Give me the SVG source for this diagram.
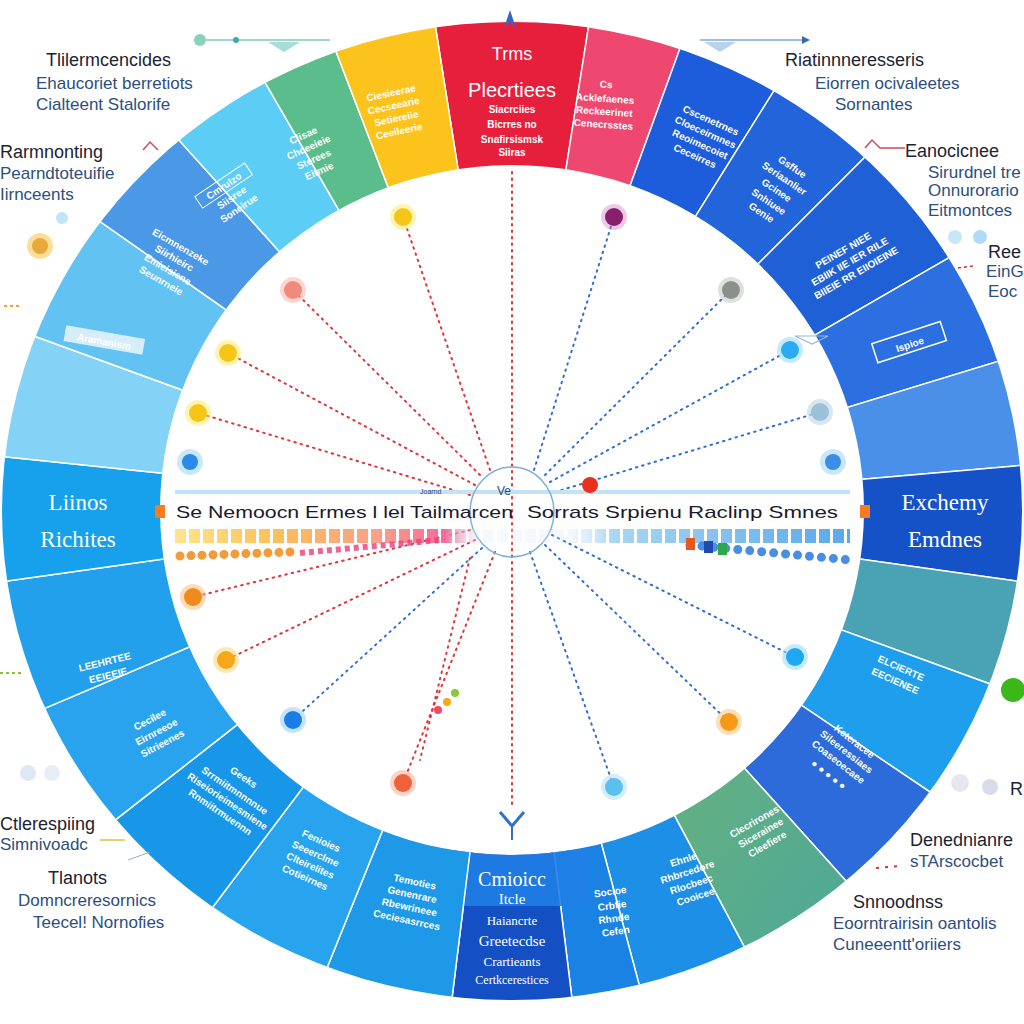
<svg xmlns="http://www.w3.org/2000/svg" width="1024" height="1024" viewBox="0 0 1024 1024">
<style>
.sl{font-family:"Liberation Sans",Arial,sans-serif;font-size:10px;font-weight:bold;fill:#fff;text-anchor:middle}
.big{font-family:"Liberation Serif","Times New Roman",serif;fill:#fff;text-anchor:middle}
.bigs{font-family:"Liberation Sans",Arial,sans-serif;fill:#fff;text-anchor:middle}
.hd{font-family:"Liberation Sans",Arial,sans-serif;font-size:18px;fill:#1c2333}
.sb{font-family:"Liberation Sans",Arial,sans-serif;font-size:17px;fill:#2d4e7e}
.row{font-family:"Liberation Sans",Arial,sans-serif;font-size:17px;fill:#1a1a2e}
.wedge{stroke:#fff;stroke-width:1.5}
.dr{fill:none;stroke:#e0343a;stroke-width:2;stroke-dasharray:1.5 5;stroke-linecap:round}
.db{fill:none;stroke:#2f6fd0;stroke-width:2;stroke-dasharray:1.5 5;stroke-linecap:round}
</style>
<defs>
<clipPath id="ring"><path clip-rule="evenodd" d="M2,511 a510,489 0 1,0 1020,0 a510,489 0 1,0 -1020,0 Z M160,510 a352,345 0 1,0 704,0 a352,345 0 1,0 -704,0 Z"/></clipPath>
<linearGradient id="bandGrad" gradientUnits="userSpaceOnUse" x1="175" y1="0" x2="850" y2="0">
<stop offset="0" stop-color="#fde68a"/><stop offset="0.15" stop-color="#fbbf5a"/><stop offset="0.3" stop-color="#f9a08a"/><stop offset="0.4" stop-color="#f26b9a"/><stop offset="0.45" stop-color="#dfe9f5" stop-opacity="0.3"/><stop offset="0.58" stop-color="#dfe9f5" stop-opacity="0.3"/><stop offset="0.65" stop-color="#a8d6f2"/><stop offset="1" stop-color="#5aa8ec"/>
</linearGradient>
<linearGradient id="tealG" x1="0" y1="0" x2="1" y2="1"><stop offset="0" stop-color="#7fb86a"/><stop offset="1" stop-color="#2f9fb2"/></linearGradient>
</defs>
<rect width="1024" height="1024" fill="#fff"/>

<g id="ring-segments" clip-path="url(#ring)">
<g id="seg1"><path class="wedge" fill="#e61f3d" d="M512,510 L386.9,-280.2 L637.1,-280.2 Z"/></g>
<g id="seg2"><path class="wedge" fill="#ee4870" d="M512,510 L637.1,-280.2 L785.6,-241.8 Z"/></g>
<g id="seg3"><path class="wedge" fill="#1d5ddc" d="M512,510 L785.6,-241.8 L935.9,-168.4 Z"/></g>
<g id="seg4"><path class="wedge" fill="#2264da" d="M512,510 L935.9,-168.4 L1077.7,-55.7 Z"/></g>
<g id="seg5"><path class="wedge" fill="#1f60d6" d="M512,510 L1077.7,-55.7 L1204.8,110 Z"/></g>
<g id="seg6"><path class="wedge" fill="#2b6fe0" d="M512,510 L1204.8,110 L1277,276.1 Z"/></g>
<g id="seg7"><path class="wedge" fill="#4a8fe8" d="M512,510 L1277,276.1 L1309,440.2 Z"/></g>
<g id="seg8"><path class="wedge" fill="#1552c8" d="M512,510 L1309,440.2 L1304.2,621.4 Z"/></g>
<g id="seg9"><path class="wedge" fill="#4aa3b4" d="M512,510 L1304.2,621.4 L1263.8,783.6 Z"/></g>
<g id="seg10"><path class="wedge" fill="#1e9eec" d="M512,510 L1263.8,783.6 L1175.2,957.4 Z"/></g>
<g id="seg11"><path class="wedge" fill="#2c6bd9" d="M512,510 L1175.2,957.4 L1047.3,1104.5 Z"/></g>
<g id="seg12"><path class="wedge" fill="url(#tealG)" d="M512,510 L1047.3,1104.5 L887.6,1216.3 Z"/></g>
<g id="seg13"><path class="wedge" fill="#1e8fe6" d="M512,510 L887.6,1216.3 L719,1282.7 Z"/></g>
<g id="seg14"><path class="wedge" fill="#1a82e2" d="M512,510 L719,1282.7 L609.5,1304 Z"/></g>
<g id="seg15"><path class="wedge" fill="#1450c4" d="M512,510 L609.5,1304 L414.5,1304 Z"/><rect x="440" y="850" width="150" height="56" fill="#1f7ee6" opacity="0.9"/></g>
<g id="seg16"><path class="wedge" fill="#1d99e8" d="M512,510 L414.5,1304 L212.3,1251.8 Z"/></g>
<g id="seg17"><path class="wedge" fill="#28a4ee" d="M512,510 L212.3,1251.8 L30.6,1148.9 Z"/></g>
<g id="seg18"><path class="wedge" fill="#1896e8" d="M512,510 L30.6,1148.9 L-118.4,1002.6 Z"/></g>
<g id="seg19"><path class="wedge" fill="#2aa3ee" d="M512,510 L-118.4,1002.6 L-224.4,822.6 Z"/></g>
<g id="seg20"><path class="wedge" fill="#23a0ec" d="M512,510 L-224.4,822.6 L-280.2,621.4 Z"/></g>
<g id="seg21"><path class="wedge" fill="#17a0ec" d="M512,510 L-280.2,621.4 L-283.6,426.4 Z"/></g>
<g id="seg22"><path class="wedge" fill="#84d2f5" d="M512,510 L-283.6,426.4 L-239.8,236.4 Z"/></g>
<g id="seg23"><path class="wedge" fill="#62c3f3" d="M512,510 L-239.8,236.4 L-143.4,51.1 Z"/></g>
<g id="seg24"><path class="wedge" fill="#4a98e6" d="M512,510 L-143.4,51.1 L-23.3,-84.5 Z"/></g>
<g id="seg25"><path class="wedge" fill="#5ccdf5" d="M512,510 L-23.3,-84.5 L112,-182.8 Z"/></g>
<g id="seg26"><path class="wedge" fill="#5cbd8c" d="M512,510 L112,-182.8 L225.3,-236.9 Z"/></g>
<g id="seg27"><path class="wedge" fill="#fcc31c" d="M512,510 L225.3,-236.9 L386.9,-280.2 Z"/></g>
</g>

<g id="segment-labels">
<g id="lab1"><text class="bigs" x="512" y="60" font-size="18">Trms</text><text class="bigs" x="512" y="97" font-size="20">Plecrtiees</text><text class="sl" x="512" y="113">Siacrciies</text><text class="sl" x="512" y="128">Bicrres no</text><text class="sl" x="512" y="143" font-size="11">Snafirsismsk</text><text class="sl" x="512" y="156">Siiras</text></g>
<g transform="translate(605,100) rotate(4)"><text class="sl" y="-12" font-size="16">Cs</text><text class="sl" y="2" font-size="12">Acklefaenes</text><text class="sl" y="15">Reckeerinet</text><text class="sl" y="28">Cenecrsstes</text></g>
<g transform="translate(702,140) rotate(24)"><text class="sl" y="-18">Cscenetrnes</text><text class="sl" y="-5">Cloeceirmnes</text><text class="sl" y="8">Reoimecoiet</text><text class="sl" y="21">Ceceirres</text></g>
<g transform="translate(778,188) rotate(34)"><text class="sl" y="-22" font-size="12">Gsffue</text><text class="sl" y="-8">Seriaanlier</text><text class="sl" y="6" font-size="12">Gcinee</text><text class="sl" y="20">Snhiuee</text><text class="sl" y="33">Genie</text></g>
<g transform="translate(850,262) rotate(-30)"><text class="sl" y="-10" font-size="12">PEINEF NIEE</text><text class="sl" y="3">EBIIK IIE IER RILE</text><text class="sl" y="16">BIIEIE RR EIIOIEINE</text></g>
<g transform="translate(910,345) rotate(-18)"><rect x="-36" y="-13" width="72" height="20" fill="none" stroke="#fff" stroke-width="1.5"/><text class="sl" y="3" font-size="14">Ispioe</text></g>
<g id="lab8"><text class="big" x="945" y="510" font-size="23">Exchemy</text><text class="big" x="945" y="547" font-size="23">Emdnes</text></g>
<g transform="translate(898,675) rotate(24)"><text class="sl" y="-4" font-size="12">ELCIERTE</text><text class="sl" y="10" font-size="12">EECIENEE</text></g>
<g transform="translate(840,760) rotate(38)"><text class="sl" y="-20">Kcteracee</text><text class="sl" y="-7">Sileeressiaes</text><text class="sl" y="6">Coaseoecaee</text><text class="sl" y="22" font-size="14">● ● ● ● ●</text></g>
<g transform="translate(762,835) rotate(-30)"><text class="sl" y="-12" fill="#f7f2a8">Clecrirones</text><text class="sl" y="1" fill="#f7f2a8">Sicerainee</text><text class="sl" y="14" fill="#f7f2a8">Cleefiere</text></g>
<g transform="translate(690,880) rotate(-18)"><text class="sl" y="-18">Ehnle</text><text class="sl" y="-5">Rhbrcedore</text><text class="sl" y="8">Rlocbeec</text><text class="sl" y="21">Cooicee</text></g>
<g transform="translate(612,905) rotate(-8)"><text class="sl" y="-10" font-size="14">Socioe</text><text class="sl" y="4">Crbfie</text><text class="sl" y="17">Rhnde</text><text class="sl" y="30">Cefen</text></g>
<g id="lab15"><text class="big" x="512" y="886" font-size="20">Cmioicc</text><text class="big" x="512" y="904" font-size="15">Itcle</text><text class="big" x="512" y="925" font-size="13">Haiancrte</text><text class="big" x="512" y="946" font-size="15">Greetecdse</text><text class="big" x="512" y="966" font-size="13">Crartieants</text><text class="big" x="512" y="984" font-size="12">Certkcerestices</text></g>
<g transform="translate(412,895) rotate(12)"><text class="sl" y="-10" font-size="12">Temoties</text><text class="sl" y="3">Genenrare</text><text class="sl" y="16">Rbewrineee</text><text class="sl" y="29">Ceciesasrrces</text></g>
<g transform="translate(315,855) rotate(24)"><text class="sl" y="-12" font-size="12">Fenioies</text><text class="sl" y="2">Seeerclme</text><text class="sl" y="15">Clteirelites</text><text class="sl" y="28">Cotieirnes</text></g>
<g transform="translate(225,805) rotate(34)"><text class="sl" y="-30" font-size="13">Geeks</text><text class="sl" y="-14">Srrmiitmnnnnue</text><text class="sl" y="-1">Riseiorieimesmiene</text><text class="sl" y="12">Rnmiitrmuennn</text></g>
<g transform="translate(158,735) rotate(-28)"><text class="sl" y="-14" font-size="14">Cecilee</text><text class="sl" y="0">Eirnreeoe</text><text class="sl" y="13">Sitrieenes</text></g>
<g transform="translate(108,675) rotate(-14)"><text class="sl" y="-10" font-size="12">LEEHRTEE</text><text class="sl" y="4" font-size="12">EEIEEIE</text></g>
<g id="lab21"><text class="big" x="78" y="510" font-size="23">Liinos</text><text class="big" x="78" y="547" font-size="23">Richites</text></g>
<g transform="translate(104,342) rotate(10)"><rect x="-40" y="-10" width="80" height="16" fill="#d6eefa"/><text class="sl" y="3" font-size="11" fill="#1c2a55">Aramanism</text></g>
<g transform="translate(172,262) rotate(30)"><text class="sl" y="-14">Eicmnenzeke</text><text class="sl" y="-1">Siirhieirc</text><text class="sl" y="12">Emieisiene</text><text class="sl" y="25">Seunrneie</text></g>
<g transform="translate(232,198) rotate(-34)"><rect x="-30" y="-22" width="60" height="14" fill="none" stroke="#fff"/><text class="sl" y="-11">Cmrulzo</text><text class="sl" y="3">Siisree</text><text class="sl" y="16">Soneirue</text></g>
<g transform="translate(312,155) rotate(-24)"><text class="sl" y="-18">Clisae</text><text class="sl" y="-5">Chceeieie</text><text class="sl" y="8">Sterees</text><text class="sl" y="21">Eitmie</text></g>
<g transform="translate(395,112) rotate(-12)"><text class="sl" y="-16">Ciesieerae</text><text class="sl" y="-3">Cecseearie</text><text class="sl" y="10">Setiereiie</text><text class="sl" y="23">Ceeileerie</text></g>
</g>

<g id="connectors">
<line class="dr" x1="512" y1="172" x2="512" y2="808"/>
<line class="dr" x1="490" y1="470" x2="403" y2="217"/>
<line class="db" x1="534" y1="470" x2="614" y2="217"/>
<line class="dr" x1="480" y1="475" x2="293" y2="290"/>
<line class="db" x1="545" y1="475" x2="731" y2="290"/>
<line class="dr" x1="475" y1="485" x2="228" y2="353"/>
<line class="db" x1="550" y1="482" x2="790" y2="350"/>
<line class="dr" x1="470" y1="495" x2="198" y2="413"/>
<line class="db" x1="555" y1="492" x2="820" y2="412"/>
<line class="dr" x1="470" y1="530" x2="193" y2="597"/>
<line class="db" x1="552" y1="535" x2="795" y2="657"/>
<line class="dr" x1="475" y1="540" x2="226" y2="660"/>
<line class="db" x1="545" y1="545" x2="729" y2="722"/>
<line class="db" x1="482" y1="548" x2="293" y2="720"/>
<line class="dr" x1="495" y1="552" x2="403" y2="783"/>
<line class="db" x1="530" y1="552" x2="614" y2="787"/>
<line class="dr" x1="470" y1="558" x2="420" y2="760"/>
<path d="M143,150 L150,142 L158,150" fill="none" stroke="#d04a5a" stroke-width="1.5"/>
<path d="M865,148 L872,140 L880,148 L905,148" fill="none" stroke="#d04a5a" stroke-width="1.5"/>
<line x1="200" y1="40" x2="330" y2="40" stroke="#7fc8c0" stroke-width="1.5"/>
<path d="M268,42 L300,42 L284,52 Z" fill="#a8dcd4"/>
<line x1="700" y1="40" x2="808" y2="40" stroke="#7fa8d0" stroke-width="1.5"/>
<path d="M802,36 L810,40 L802,44 Z" fill="#3a6ab0"/>
<path d="M704,42 L736,42 L720,52 Z" fill="#b8d2ea"/>
<line x1="4" y1="306" x2="22" y2="306" stroke="#f0a030" stroke-width="2" stroke-dasharray="3 3"/>
<line x1="0" y1="673" x2="22" y2="673" stroke="#8fbf3a" stroke-width="2" stroke-dasharray="3 3"/>
<line x1="100" y1="840" x2="125" y2="840" stroke="#e8d070" stroke-width="2"/>
<line x1="128" y1="860" x2="150" y2="852" stroke="#9ac" stroke-width="1"/>
<path d="M958,268 L973,266" stroke="#d03040" stroke-width="1.5" stroke-dasharray="3 3"/>
<path d="M876,868 L900,866" stroke="#d03040" stroke-width="2" stroke-dasharray="3 6"/>
<path d="M500,812 L512,826 L524,812" fill="none" stroke="#3370c8" stroke-width="3"/>
<line x1="512" y1="826" x2="512" y2="840" stroke="#3370c8" stroke-width="2"/>
<path d="M504,28 L510,10 L516,28 L510,22 Z" fill="#3a66c0"/>
<path d="M795,336 L828,336 L812,344 Z" fill="none" stroke="#9ab8d8" stroke-width="1.2"/>
</g>

<g id="center-band">
<line x1="175" y1="492" x2="850" y2="492" stroke="#c4e2f6" stroke-width="4"/>
<ellipse cx="512" cy="512" rx="42" ry="45" fill="none" stroke="#7fb0d8" stroke-width="1.5"/>
<text x="497" y="495" font-family="Liberation Sans, Arial, sans-serif" font-size="12" fill="#2a4a80">Ve</text>
<text x="420" y="494" font-family="Liberation Sans, Arial, sans-serif" font-size="7" fill="#2a4a80">Joarnd</text>
<circle cx="590" cy="485" r="8" fill="#e8321e"/>
<rect x="155" y="505" width="10" height="13" fill="#f57c1f"/>
<rect x="860" y="505" width="10" height="13" fill="#f57c1f"/>
<text class="row" x="176" y="518" textLength="337" lengthAdjust="spacingAndGlyphs">Se Nemoocn Ermes l lel Tailmarcen</text>
<text class="row" x="527" y="518" textLength="311" lengthAdjust="spacingAndGlyphs">Sorrats Srpienu Raclinp Smnes</text>
<line x1="175" y1="536" x2="850" y2="536" stroke="url(#bandGrad)" stroke-width="14" stroke-dasharray="11 3"/>
<line x1="180" y1="556" x2="290" y2="552" stroke="#f39a3a" stroke-width="9" stroke-linecap="round" stroke-dasharray="0 11"/>
<line x1="300" y1="553" x2="440" y2="540" stroke="#e8407a" stroke-width="6" stroke-dasharray="5 4" opacity="0.8"/>
<line x1="690" y1="545" x2="850" y2="560" stroke="#2a7ae0" stroke-width="9" stroke-linecap="round" stroke-dasharray="0 12" opacity="0.85"/>
<rect x="686" y="538" width="9" height="12" fill="#e8581e"/>
<rect x="704" y="541" width="9" height="12" fill="#1e4ab0"/>
<rect x="718" y="543" width="9" height="12" fill="#2aa84a"/>
</g>

<g id="inner-nodes">
<g id="n1"><circle cx="403" cy="217" r="13" fill="#fce96a" opacity="0.5"/><circle cx="403" cy="217" r="9" fill="#f5c518"/></g>
<g id="n2"><circle cx="614" cy="217" r="13" fill="#d07ac0" opacity="0.4"/><circle cx="614" cy="217" r="9" fill="#8a1f6e"/></g>
<g id="n3"><circle cx="293" cy="290" r="13" fill="#f8b0a0" opacity="0.5"/><circle cx="293" cy="290" r="9" fill="#f08a7a"/></g>
<g id="n4"><circle cx="731" cy="290" r="13" fill="#c0c4c0" opacity="0.5"/><circle cx="731" cy="290" r="9" fill="#8a908a"/></g>
<g id="n5"><circle cx="228" cy="353" r="13" fill="#fce96a" opacity="0.5"/><circle cx="228" cy="353" r="9" fill="#f5c518"/></g>
<g id="n6"><circle cx="790" cy="350" r="13" fill="#9fdcf8" opacity="0.6"/><circle cx="790" cy="350" r="9" fill="#2aaaf0"/></g>
<g id="n7"><circle cx="198" cy="413" r="13" fill="#fce96a" opacity="0.5"/><circle cx="198" cy="413" r="9" fill="#f5c518"/></g>
<g id="n8"><circle cx="820" cy="412" r="13" fill="#c8dcea" opacity="0.7"/><circle cx="820" cy="412" r="9" fill="#9cc0d8"/></g>
<g id="n9"><circle cx="190" cy="462" r="13" fill="#a8d8f8" opacity="0.6"/><circle cx="190" cy="462" r="8" fill="#2a8ae8"/></g>
<g id="n10"><circle cx="833" cy="462" r="13" fill="#a8d8f8" opacity="0.6"/><circle cx="833" cy="462" r="8" fill="#3a8ee8"/></g>
<g id="n11"><circle cx="193" cy="597" r="13" fill="#fbb870" opacity="0.5"/><circle cx="193" cy="597" r="9" fill="#f08a1e"/></g>
<g id="n12"><circle cx="795" cy="657" r="13" fill="#9fdcf8" opacity="0.6"/><circle cx="795" cy="657" r="9" fill="#1ea8f0"/></g>
<g id="n13"><circle cx="226" cy="660" r="13" fill="#fcd070" opacity="0.5"/><circle cx="226" cy="660" r="9" fill="#f5a818"/></g>
<g id="n14"><circle cx="729" cy="722" r="13" fill="#fcc070" opacity="0.5"/><circle cx="729" cy="722" r="9" fill="#f59a18"/></g>
<g id="n15"><circle cx="293" cy="720" r="13" fill="#9fd0f8" opacity="0.6"/><circle cx="293" cy="720" r="9" fill="#1a7ee8"/></g>
<g id="n16"><circle cx="403" cy="783" r="13" fill="#f8a890" opacity="0.5"/><circle cx="403" cy="783" r="9" fill="#f0603a"/></g>
<g id="n17"><circle cx="614" cy="787" r="13" fill="#b8e2f8" opacity="0.6"/><circle cx="614" cy="787" r="9" fill="#5cc0ee"/></g>
<circle cx="438" cy="710" r="4" fill="#f04a6a"/><circle cx="447" cy="702" r="4" fill="#f5a818"/><circle cx="455" cy="693" r="4" fill="#8ac83a"/>
</g>

<g id="outer-labels">
<g id="ol1"><circle cx="200" cy="40" r="6" fill="#8ad0c0"/><circle cx="236" cy="40" r="3" fill="#3aa8b0"/><text class="hd" x="46" y="66">Tlilermcencides</text><text class="sb" x="36" y="89">Ehaucoriet berretiots</text><text class="sb" x="36" y="110">Cialteent Stalorife</text></g>
<g id="ol2"><text class="hd" x="0" y="158">Rarmnonting</text><text class="sb" x="0" y="179">Pearndtoteuifie</text><text class="sb" x="0" y="200">Iirnceents</text></g>
<g id="ol3"><circle cx="62" cy="218" r="6" fill="#c0e4f8"/><circle cx="40" cy="246" r="13" fill="#fbd070" opacity="0.7"/><circle cx="40" cy="246" r="8" fill="#e8a83a"/></g>
<g id="ol4"><text class="hd" x="785" y="66">Riatinnneresseris</text><text class="sb" x="815" y="89">Eiorren ocivaleetes</text><text class="sb" x="835" y="110">Sornantes</text></g>
<g id="ol5"><text class="hd" x="905" y="157">Eanocicnee</text><text class="sb" x="928" y="178" font-size="15">Sirurdnel tre</text><text class="sb" x="928" y="196" font-size="15">Onnurorario</text><text class="sb" x="928" y="216" font-size="15">Eitmontces</text></g>
<g id="ol6"><circle cx="955" cy="237" r="7" fill="#c8e6f8"/><circle cx="980" cy="237" r="7" fill="#b0daf6"/><text class="hd" x="988" y="258" font-size="17">Ree</text><text class="sb" x="986" y="277" font-size="13">EinG</text><text class="sb" x="988" y="297" font-size="16">Eoc</text></g>
<g id="ol7"><circle cx="1013" cy="690" r="12" fill="#3ab81a"/></g>
<g id="ol8"><circle cx="960" cy="783" r="9" fill="#e6e6ee"/><circle cx="990" cy="787" r="8" fill="#d8dce8"/><text class="hd" x="1010" y="795">R</text></g>
<g id="ol9"><text class="hd" x="910" y="846">Denednianre</text><text class="sb" x="910" y="867">sTArscocbet</text></g>
<g id="ol10"><text class="hd" x="853" y="908">Snnoodnss</text><text class="sb" x="833" y="929">Eoorntrairisin oantolis</text><text class="sb" x="833" y="950">Cuneeentt'oriiers</text></g>
<g id="ol11"><circle cx="28" cy="773" r="8" fill="#dde8f4"/><circle cx="52" cy="773" r="8" fill="#e8eef6"/><text class="hd" x="0" y="830">Ctlerespiing</text><text class="sb" x="0" y="850">Simnivoadc</text></g>
<g id="ol12"><text class="hd" x="48" y="884">Tlanots</text><text class="sb" x="18" y="906">Domncreresornics</text><text class="sb" x="33" y="928">Teecel! Nornofies</text></g>
</g>
</svg>
